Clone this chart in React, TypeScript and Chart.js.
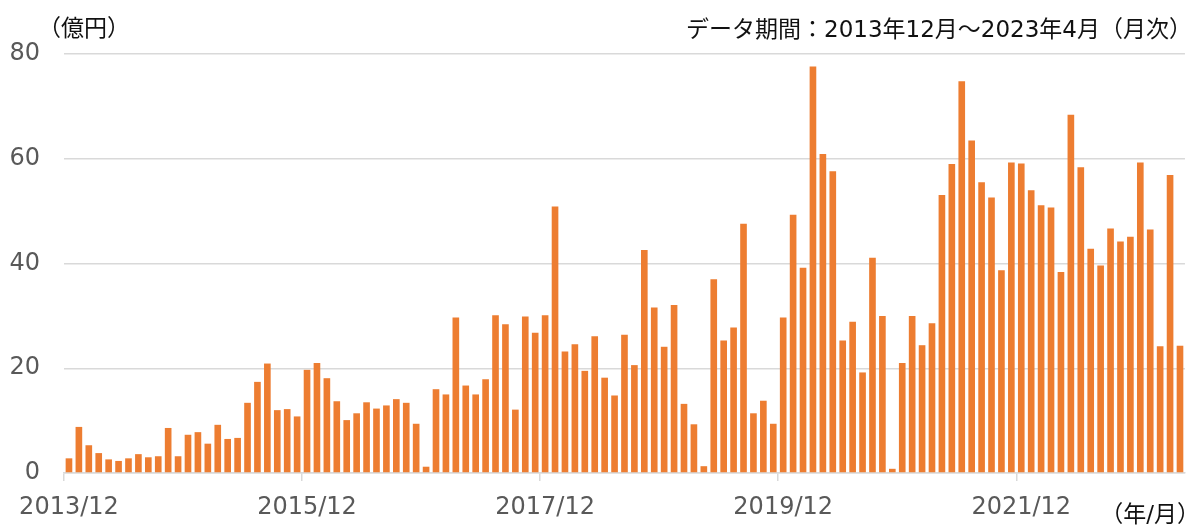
import React, { useEffect, useRef } from "react";
import { Chart, registerables } from "chart.js";

Chart.register(...registerables);

const START_YEAR = 2013;
const START_MONTH = 12;
const MONTH_COUNT = 113;

const categories: string[] = [];
for (let i = 0; i < MONTH_COUNT; i++) {
  const m0 = START_MONTH - 1 + i;
  const y = START_YEAR + Math.floor(m0 / 12);
  const m = (m0 % 12) + 1;
  categories.push(`${y}/${m}`);
}

const values: number[] = [
  2.8, 8.8, 5.3, 3.8, 2.6, 2.3, 2.8, 3.6, 3.0, 3.2, 8.6, 3.2,
  7.3, 7.8, 5.6, 9.2, 6.5, 6.7, 13.4, 17.4, 20.9, 12.0, 12.2, 10.8,
  19.7, 21.0, 18.1, 13.7, 10.1, 11.4, 13.5, 12.3, 12.9, 14.1, 13.4, 9.4,
  1.2, 16.0, 15.0, 29.7, 16.7, 15.0, 17.9, 30.1, 28.4, 12.1, 29.9, 26.8,
  30.1, 50.9, 23.2, 24.6, 19.5, 26.1, 18.2, 14.8, 26.4, 20.6, 42.6, 31.6,
  24.1, 32.1, 13.2, 9.3, 1.3, 37.0, 25.3, 27.8, 47.6, 11.4, 13.8, 9.4,
  29.7, 49.3, 39.2, 77.6, 60.9, 57.6, 25.3, 28.9, 19.2, 41.1, 30.0, 0.8,
  21.0, 30.0, 24.4, 28.6, 53.1, 59.0, 74.8, 63.5, 55.5, 52.6, 38.7, 59.3,
  59.1, 54.0, 51.1, 50.7, 38.4, 68.4, 58.4, 42.8, 39.6, 46.7, 44.2, 45.1,
  59.3, 46.5, 24.2, 56.9, 24.3,
];

const yTicks: number[] = [0, 20, 40, 60, 80];
const LABEL_EVERY = 24;

const UNIT_LABEL = "（億円）";
const PERIOD_LABEL = "データ期間：2013年12月～2023年4月（月次）";
const X_UNIT_LABEL = "（年/月）";

const FONT = "'DejaVu Sans', 'Noto Sans CJK JP', sans-serif";

const textPlugin = {
  id: "extraTexts",
  afterDraw(chart: any) {
    const ctx = chart.ctx;
    ctx.save();
    ctx.fillStyle = "#111111";
    ctx.textBaseline = "middle";
    ctx.font = `23px ${FONT}`;
    ctx.textAlign = "center";
    ctx.fillText(UNIT_LABEL, 84, 30);
    ctx.textAlign = "right";
    ctx.fillText(PERIOD_LABEL, 1192, 31);
    ctx.fillText(X_UNIT_LABEL, 1200, 516);
    ctx.restore();
  },
};

export default function App() {
  const canvasRef = useRef<HTMLCanvasElement | null>(null);

  useEffect(() => {
    document.body.style.margin = "0";
    const canvas = canvasRef.current;
    if (!canvas) return;
    const chart = new Chart(canvas, {
      type: "bar",
      data: {
        labels: categories,
        datasets: [
          {
            data: values,
            backgroundColor: "#ED7D31",
            borderWidth: 0,
            barPercentage: 0.67,
            categoryPercentage: 1,
          },
        ],
      },
      options: {
        animation: false,
        responsive: true,
        maintainAspectRatio: false,
        layout: { padding: { left: 0, right: 2, top: 54, bottom: 0 } },
        plugins: {
          legend: { display: false },
          tooltip: { enabled: false },
          title: { display: false },
        },
        scales: {
          x: {
            type: "category",
            offset: true,
            grid: {
              offset: true,
              drawOnChartArea: false,
              drawTicks: true,
              tickLength: 8,
              lineWidth: 1.5,
              color: (c: any) => (c.index % LABEL_EVERY === 0 ? "#d9d9d9" : "rgba(0,0,0,0)"),
            },
            border: { display: true, color: "#d9d9d9", width: 1.5 },
            ticks: {
              autoSkip: false,
              maxRotation: 0,
              minRotation: 0,
              padding: 12,
              color: "#595959",
              font: { family: FONT, size: 24 },
              callback: (_v: any, i: number) => (i % LABEL_EVERY === 0 ? categories[i].replace(/\/(\d)$/, "/0$1") : ""),
            },
            afterFit: (scale: any) => {
              scale.height = 56;
            },
          },
          y: {
            min: yTicks[0],
            max: yTicks[yTicks.length - 1],
            grid: {
              drawTicks: false,
              color: "#d9d9d9",
              lineWidth: 1.5,
            },
            border: { display: false },
            ticks: {
              stepSize: 20,
              padding: 24,
              color: "#595959",
              font: { family: FONT, size: 24 },
            },
            afterFit: (scale: any) => {
              scale.width = 64;
            },
          },
        },
      },
      plugins: [textPlugin],
    });
    return () => chart.destroy();
  }, []);

  return (
    <div style={{ width: 1192, height: 529, position: "relative" }}>
      <canvas ref={canvasRef} />
    </div>
  );
}
